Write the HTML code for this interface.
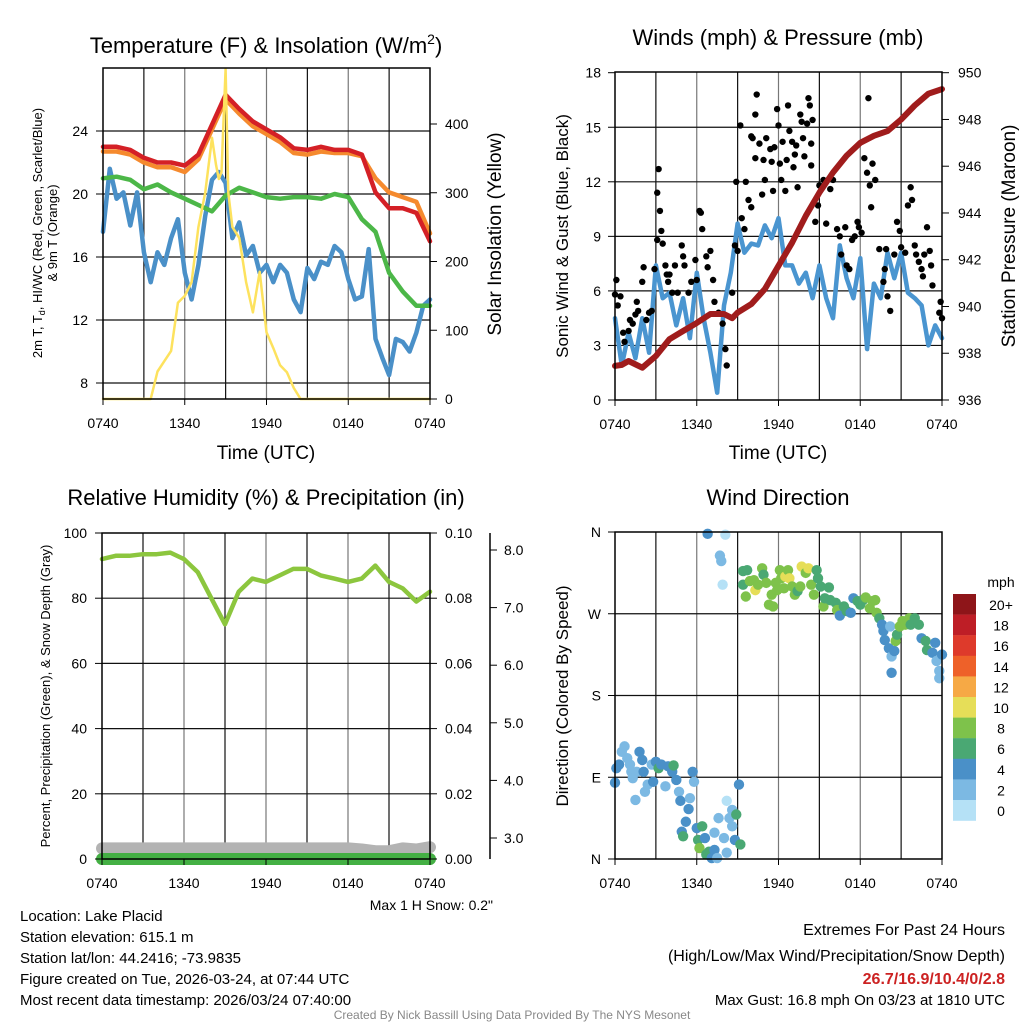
<!DOCTYPE html>
<html><head><meta charset="utf-8"><style>
html,body{margin:0;padding:0;background:#fff;}
svg{display:block;font-family:"Liberation Sans",Arial,sans-serif;}
</style></head><body>
<svg id="chart" width="1024" height="1024" viewBox="0 0 1024 1024" xmlns="http://www.w3.org/2000/svg">
<rect width="1024" height="1024" fill="#fff"/>
<g id="grids"></g>
<g id="series"></g>
<g id="axes"></g>
<g id="texts" fill="#000">
<text x="266" y="53" font-size="22" text-anchor="middle">Temperature (F) &amp; Insolation (W/m<tspan font-size="14" dy="-9">2</tspan><tspan dy="9">)</tspan></text>
<text x="778" y="45" font-size="22" text-anchor="middle">Winds (mph) &amp; Pressure (mb)</text>
<text x="266" y="505" font-size="22" text-anchor="middle">Relative Humidity (%) &amp; Precipitation (in)</text>
<text x="778" y="505" font-size="22" text-anchor="middle">Wind Direction</text>
<text transform="translate(42,233) rotate(-90)" font-size="13" text-anchor="middle">2m T, T<tspan font-size="9" dy="3">d</tspan><tspan dy="-3">, HI/WC (Red, Green, Scarlet/Blue)</tspan></text>
<text transform="translate(57,233) rotate(-90)" font-size="13" text-anchor="middle">&amp; 9m T (Orange)</text>
<text transform="translate(501,234) rotate(-90)" font-size="19" text-anchor="middle">Solar Insolation (Yellow)</text>
<text x="266" y="459" font-size="19" text-anchor="middle">Time (UTC)</text>
<text x="778" y="459" font-size="19" text-anchor="middle">Time (UTC)</text>
<text transform="translate(568,236) rotate(-90)" font-size="17" text-anchor="middle">Sonic Wind &amp; Gust (Blue, Black)</text>
<text transform="translate(1015,236) rotate(-90)" font-size="19" text-anchor="middle">Station Pressure (Maroon)</text>
<text transform="translate(50,696) rotate(-90)" font-size="13" text-anchor="middle">Percent, Precipitation (Green), &amp; Snow Depth (Gray)</text>
<text transform="translate(568,696) rotate(-90)" font-size="17" text-anchor="middle">Direction (Colored By Speed)</text>
<text x="493" y="910" font-size="14" text-anchor="end">Max 1 H Snow: 0.2"</text>
<text x="1001" y="587" font-size="14" text-anchor="middle">mph</text>
<g font-size="15">
<text x="20" y="921">Location: Lake Placid</text>
<text x="20" y="942">Station elevation: 615.1 m</text>
<text x="20" y="963">Station lat/lon: 44.2416; -73.9835</text>
<text x="20" y="984">Figure created on Tue, 2026-03-24, at 07:44 UTC</text>
<text x="20" y="1005">Most recent data timestamp: 2026/03/24 07:40:00</text>
</g>
<g font-size="16" text-anchor="end">
<text x="1005" y="935">Extremes For Past 24 Hours</text>
<text x="1005" y="961">(High/Low/Max Wind/Precipitation/Snow Depth)</text>
<text x="1005" y="984" fill="#cc2222" font-weight="bold">26.7/16.9/10.4/0/2.8</text>
<text x="1005" y="1005" font-size="15">Max Gust: 16.8 mph On 03/23 at 1810 UTC</text>
</g>
<text x="512" y="1019" font-size="12" fill="#888" text-anchor="middle">Created By Nick Bassill Using Data Provided By The NYS Mesonet</text>
</g>
</svg>
<script>
// ---- data ----
const xTickLabels = ["0740","1340","1940","0140","0740"];
const hourly = [0,1,2,3,4,5,6,7,8,9,10,11,12,13,14,15,16,17,18,19,20,21,22,23,24];
const halfHours = [0,0.5,1,1.5,2,2.5,3,3.5,4,4.5,5,5.5,6,6.5,7,7.5,8,8.5,9,9.5,10,10.5,11,11.5,12,12.5,13,13.5,14,14.5,15,15.5,16,16.5,17,17.5,18,18.5,19,19.5,20,20.5,21,21.5,22,22.5,23,23.5,24];
const tempRed = [23.0,23.0,22.8,22.3,22.0,22.0,21.8,22.5,24.4,26.3,25.4,24.6,24.1,23.6,22.9,22.8,23.0,22.8,22.8,22.5,20.1,19.1,19.1,18.8,17.0];
const tempOrange = [22.7,22.7,22.5,22.0,21.7,21.7,21.4,22.2,24.1,26.0,25.1,24.3,23.8,23.3,22.6,22.5,22.7,22.6,22.6,22.4,21.0,20.1,19.8,19.5,17.5];
const tempGreen = [21.0,21.1,20.9,20.3,20.6,20.1,19.7,19.3,18.9,19.9,20.4,20.1,19.8,19.7,19.8,19.8,19.7,20.0,19.8,18.4,17.6,15.0,13.8,12.9,12.9];
const dewBlue = [17.6,21.6,19.7,20.1,18.0,20.1,16.3,14.4,16.3,15.5,17.2,18.4,15.0,13.3,15.5,18.6,20.9,21.4,20.7,17.2,18.2,16.1,16.7,15.0,15.5,14.4,15.5,15.0,13.3,12.5,15.3,14.6,15.7,15.5,16.7,16.3,14.6,13.3,13.5,16.5,10.8,9.6,8.5,10.8,10.6,10.0,11.2,12.9,13.3];
const solarHours = [0,3.5,4,4.5,5,5.5,6,6.5,7,7.5,8,8.3,8.5,8.7,9,9.2,9.5,10,10.5,11,11.5,12,12.5,13,13.5,14,14.5,24];
const solarValues = [0,0,40,55,70,140,150,170,250,300,380,340,320,330,480,300,250,234,170,126,185,97,74,49,39,16,0,0];
const windBlue = [4.5,1.9,3.7,2.3,4.5,2.6,7.4,5.6,5.9,4.1,5.6,3.4,7.0,4.5,2.6,0.4,5.2,7.0,9.7,8.1,8.6,8.5,9.6,8.9,10.0,7.4,7.4,6.4,7.0,5.6,7.4,5.6,4.5,8.5,6.7,5.6,7.8,2.8,6.4,5.6,8.1,6.7,8.1,5.9,5.6,5.2,3.0,4.1,3.4];
const pressureHours = [0,0.5,1,2,3,4,5,6,7,8,8.6,9,10,11,12,13,14,15,16,17,18,19,20,21,22,23,24];
const pressureValues = [937.46,937.5,937.67,937.38,937.88,938.6,938.95,939.3,939.68,939.68,939.5,939.74,940.1,940.75,941.74,942.73,943.88,944.87,945.73,946.45,947.0,947.3,947.5,948.0,948.6,949.1,949.3];
const gustHours = [0,0.1,0.2,0.4,0.6,0.7,1.0,1.1,1.3,1.5,1.6,1.7,2.0,2.1,2.3,2.5,2.7,2.9,3.1,3.1,3.2,3.3,3.4,3.5,3.7,3.8,3.9,4.0,4.2,4.4,4.6,4.9,5.0,5.1,5.4,5.6,5.9,6.0,6.2,6.3,6.4,6.7,6.8,7.0,7.2,7.3,7.6,7.9,8.1,8.2,8.6,8.8,8.9,9.0,9.2,9.3,9.5,9.6,9.8,10.0,10.0,10.1,10.3,10.3,10.4,10.6,10.8,10.9,11.0,11.1,11.4,11.5,11.6,11.7,11.9,12.0,12.1,12.2,12.3,12.5,12.6,12.7,12.8,13.0,13.1,13.2,13.3,13.4,13.6,13.7,13.8,13.9,14.1,14.2,14.3,14.4,14.4,14.5,14.7,14.9,15.0,15.3,15.5,15.8,16.0,16.3,16.5,16.6,16.9,17.0,17.2,17.4,17.6,17.8,17.9,18.1,18.3,18.5,18.6,18.7,18.8,18.9,19.1,19.4,19.7,19.8,19.9,20.0,20.2,20.5,20.7,20.9,21.0,21.3,21.5,21.7,21.8,22.0,22.1,22.3,22.5,22.6,22.7,22.9,23.1,23.2,23.3,23.8,23.9,24.0];
const gustMph = [5.8,6.6,5.2,5.7,3.7,3.2,3.8,4.4,4.2,4.7,5.4,4.9,6.5,7.3,4.4,4.8,4.9,7.2,8.8,11.4,12.7,10.4,9.3,8.6,7.4,6.9,6.5,6.9,5.9,7.4,5.9,8.5,7.9,7.4,5.9,6.5,7.7,6.6,10.4,10.3,9.4,7.9,7.3,8.2,6.6,5.4,4.8,4.2,2.8,1.9,5.9,8.5,12.0,8.2,15.1,10.0,9.4,12.0,11.0,10.6,14.5,14.4,15.7,13.3,16.8,14.1,11.3,13.2,12.1,14.4,13.8,13.1,11.5,13.9,16.0,15.1,13.0,12.1,14.2,11.5,13.2,16.2,14.8,14.2,12.8,13.5,14.0,11.7,15.7,15.3,14.4,13.4,15.2,16.6,16.2,14.1,12.9,15.4,9.8,10.7,11.8,12.1,9.7,11.6,12.1,9.4,9.0,8.0,9.5,7.4,7.2,8.8,9.0,9.8,9.5,9.2,13.3,12.5,16.6,11.8,10.6,13.0,12.1,8.3,6.5,7.2,8.3,5.7,4.9,8.0,9.8,9.3,8.4,8.1,10.7,11.7,11.0,8.5,8.0,7.6,7.2,6.8,8.0,9.5,8.2,7.4,6.3,4.8,5.4,4.5];
const rhValues = [92,93,93,93.5,93.5,94,92,88,80,72,82,86,85,87,89,89,87,86,85,86,90,85,83,79,82];
const precipValues = [0,0,0,0,0,0,0,0,0,0,0,0,0,0,0,0,0,0,0,0,0,0,0,0,0];
const snowDepth = [2.82,2.82,2.82,2.82,2.82,2.82,2.82,2.82,2.82,2.82,2.82,2.82,2.82,2.82,2.82,2.82,2.82,2.82,2.82,2.8,2.77,2.77,2.82,2.8,2.84];
const dirHours = [0.0,0.1,0.3,0.5,0.7,0.9,1.1,1.2,1.3,1.5,1.6,1.8,2.0,2.1,2.2,2.4,2.7,2.8,3.0,3.2,3.4,3.7,3.9,4.2,4.3,4.5,4.7,4.8,4.9,5.0,5.2,5.4,5.5,5.7,5.8,6.0,6.1,6.2,6.4,6.6,6.7,6.9,7.1,7.3,7.3,7.5,7.6,8.0,8.2,8.2,8.4,8.6,8.6,8.8,8.9,9.1,9.2,6.8,8.1,7.7,7.8,7.9,9.4,9.7,9.4,9.6,9.9,10.2,10.3,10.5,10.8,10.9,11.1,11.3,11.5,11.6,11.8,11.9,12.1,12.2,12.4,12.5,12.7,12.8,13.0,13.2,13.4,13.6,13.7,14.0,14.2,14.4,14.6,14.8,14.9,15.1,15.3,15.4,15.7,15.8,16.2,16.3,16.5,16.8,17.0,17.3,17.5,17.8,18.0,18.2,18.4,18.7,18.9,19.1,19.2,19.4,19.6,19.7,19.8,20.1,20.2,20.3,20.3,20.5,20.6,20.7,20.9,21.1,21.3,21.6,21.7,22.0,22.3,22.5,22.8,22.9,23.3,23.5,23.6,23.8,23.8,24.0];
const dirDegrees = [84,100,104,118,124,111,104,96,89,65,96,118,109,96,74,82,104,85,107,100,104,80,102,96,103,87,74,64,30,25,41,55,67,96,85,34,21,12,36,23,5,8,1,10,29,1,45,23,7,64,45,36,54,21,49,82,16,358,357,334,328,302,317,318,302,289,306,307,296,302,320,313,304,280,291,278,304,296,318,309,298,311,318,309,300,291,295,300,322,315,320,302,291,318,309,300,278,287,299,285,282,274,268,278,273,271,287,284,280,285,288,276,284,285,271,265,258,251,241,232,256,223,205,229,240,247,256,262,258,265,258,265,258,243,240,230,227,238,218,207,199,225];
const dirSpeeds = [5,5,5,3,3,3,3,3,3,3,3,5,5,5,3,3,3,5,5,7,5,3,5,5,7,5,3,5,5,7,5,5,3,5,3,5,7,9,7,5,7,7,5,5,3,3,3,3,3,1,3,3,3,5,7,5,7,5,1,3,3,1,7,7,7,9,9,9,11,9,9,7,9,9,9,9,9,9,9,9,9,11,9,11,9,9,7,9,11,9,11,9,9,7,7,7,9,7,7,7,7,9,5,7,7,5,5,7,7,7,9,9,9,9,9,7,5,5,5,5,3,3,5,5,9,7,9,9,9,9,7,7,7,5,7,7,5,5,3,3,3,5];
const speedBinLabels = ["20+","18","16","14","12","10","8","6","4","2","0"];
const speedBinColors = ["#8e1519","#be1e26","#de3a2b","#ee6129","#f6a945","#e6de58","#7ec24b","#4aa873","#4a90c8","#7cb9e3","#b5e1f6"];

// ---- helpers ----
const NS="http://www.w3.org/2000/svg";
function mk(tag,attrs,parent){const e=document.createElementNS(NS,tag);for(const k in attrs)e.setAttribute(k,attrs[k]);parent.appendChild(e);return e;}
function lin(d0,d1,r0,r1){return v=>r0+(v-d0)/(d1-d0)*(r1-r0);}
const G=document.getElementById('grids'),S=document.getElementById('series'),A=document.getElementById('axes');

const P1={x0:103,x1:430,y0:68,y1:399};
const P2={x0:615,x1:942,y0:72,y1:400};
const P3={x0:102,x1:430,y0:533,y1:859};
const P4={x0:615,x1:942,y0:532,y1:859};

function frame(P,name,hVals,yS){
  const xs=lin(0,24,P.x0,P.x1);
  for(let h=3;h<24;h+=3){
    const l=mk('line',{x1:xs(h),x2:xs(h),y1:P.y0,y2:P.y1,stroke:(h%6===0)?'#777':'#111','stroke-width':1.2},G);
    
    
  }
  hVals.forEach(v=>{
    const y=yS(v);
    const l=mk('line',{x1:P.x0,x2:P.x1,y1:y,y2:y,stroke:'#111','stroke-width':1.2},G);
    
    
  });
  const r=mk('rect',{x:P.x0,y:P.y0,width:P.x1-P.x0,height:P.y1-P.y0,fill:'none',stroke:'#000','stroke-width':1.5},A);
  
  
  xTickLabels.forEach((t,i)=>{
    const x=xs(i*6);
    mk('line',{x1:x,x2:x,y1:P.y1,y2:P.y1+6,stroke:'#000'},A);
    const tx=mk('text',{x:x,y:P.y1+29,'font-size':14,'text-anchor':'middle'},A);
    tx.textContent=t;
    
    
  });
  return xs;
}
function yTicks(P,vals,labels,yS,side,name,dx){
  const x=side==='left'?P.x0:P.x1;
  vals.forEach((v,i)=>{
    const y=yS(v);
    mk('line',{x1:x,x2:side==='left'?x-7:x+7,y1:y,y2:y,stroke:'#000'},A);
    const tx=mk('text',{x:side==='left'?x-(dx||12):x+(dx||12),y:y+5,'font-size':14,'text-anchor':side==='left'?'end':'start'},A);
    tx.textContent=labels[i];
    
    
  });
}
function path(xs,ys,X,Y,color,w,name){
  let d='';
  for(let i=0;i<X.length;i++)d+=(i?'L':'M')+xs(X[i]).toFixed(1)+','+ys(Y[i]).toFixed(1);
  const p=mk('path',{d:d,fill:'none',stroke:color,'stroke-width':w,'stroke-linejoin':'round','stroke-linecap':'round'},S);
  
  
  return p;
}

// ---- Panel 1 ----
const y1L=lin(8,24,383,131), y1R=lin(0,400,399,124);
const x1=frame(P1,'temp-panel',[8,12,16,20,24],y1L);
yTicks(P1,[8,12,16,20,24],["8","12","16","20","24"],y1L,'left','temp-y',15);
yTicks(P1,[0,100,200,300,400],["0","100","200","300","400"],y1R,'right','insolation-y',15);
path(x1,y1L,halfHours,dewBlue,'#4a90c8',4.5,'dewpoint-line');
path(x1,y1L,hourly,tempGreen,'#4cb748',4.5,'heat-index-line');
path(x1,y1L,hourly,tempOrange,'#f58a2e',4.5,'temp-9m-line');
path(x1,y1L,hourly,tempRed,'#d42026',4.5,'temp-2m-line');
path(x1,y1R,solarHours,solarValues,'#fde25e',2.5,'insolation-line');

// ---- Panel 2 ----
const y2L=lin(0,18,400,72.7), y2R=lin(936,950,400,72.7);
const x2=frame(P2,'wind-panel',[3,6,9,12,15],y2L);
yTicks(P2,[0,3,6,9,12,15,18],["0","3","6","9","12","15","18"],y2L,'left','wind-y',14);
yTicks(P2,[936,938,940,942,944,946,948,950],["936","938","940","942","944","946","948","950"],y2R,'right','pressure-y',16);
path(x2,y2L,halfHours,windBlue,'#4a95d0',4.5,'sonic-wind-line');
gustHours.forEach((h,i)=>{
  const c=mk('circle',{cx:x2(h),cy:y2L(gustMph[i]),r:3.2,fill:'#000'},S);
  
  
});
path(x2,y2R,pressureHours,pressureValues,'#a01c1c',6,'pressure-line');

// ---- Panel 3 ----
const y3L=lin(0,100,859,533), y3R=lin(0,0.1,859,533), y3S=lin(3,8,838,550);
const x3=frame(P3,'humidity-panel',[20,40,60,80],y3L);
yTicks(P3,[0,20,40,60,80,100],["0","20","40","60","80","100"],y3L,'left','humidity-y',15);
yTicks(P3,[0,0.02,0.04,0.06,0.08,0.1],["0.00","0.02","0.04","0.06","0.08","0.10"],y3R,'right','precip-y',15);
const snowAxis=mk('line',{x1:490,x2:490,y1:533,y2:859,stroke:'#000','stroke-width':1.5},A);


["3.0","4.0","5.0","6.0","7.0","8.0"].forEach((t,i)=>{
  const y=y3S(3+i);
  mk('line',{x1:490,x2:497,y1:y,y2:y,stroke:'#000'},A);
  const tx=mk('text',{x:504,y:y+5,'font-size':14},A);
  tx.textContent=t;
  
  
});
path(x3,y3S,hourly,snowDepth,'#b3b3b3',12,'snow-depth-line');
path(x3,y3R,hourly,precipValues,'#44b044',12,'precipitation-line');
path(x3,y3L,hourly,rhValues,'#8cc63e',4.5,'humidity-line');

// ---- Panel 4 ----
const y4=lin(0,360,859,532);
const x4=frame(P4,'direction-panel',[90,180,270],y4);
yTicks(P4,[0,90,180,270,360],["N","E","S","W","N"],y4,'left','direction-y',14);
function speedColor(s){let idx=Math.min(10,Math.floor(s/2));return speedBinColors[10-idx];}
dirHours.forEach((h,i)=>{
  const c=mk('circle',{cx:x4(h),cy:y4(dirDegrees[i]),r:5.2,fill:speedColor(dirSpeeds[i])},S);
  
  
});
speedBinLabels.forEach((t,i)=>{
  const y=594+i*20.6;
  const r=mk('rect',{x:953,y:y,width:23,height:20.8,fill:speedBinColors[i]},A);
  
  
  const tx=mk('text',{x:1001,y:y+16,'font-size':14,'text-anchor':'middle'},A);
  tx.textContent=t;
  
  
});
</script>
</body></html>
